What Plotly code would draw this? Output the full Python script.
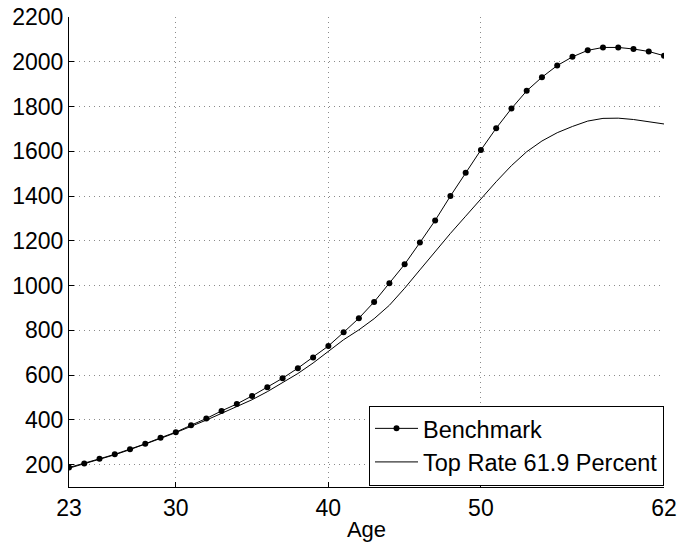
import plotly.graph_objects as go

ages = list(range(23, 63))
benchmark = [187, 205, 226, 246, 269, 293, 320, 345, 376, 406,
             440, 471, 507, 546, 586, 631, 679, 730, 791, 854,
             927, 1010, 1095, 1192, 1291, 1400, 1504, 1606, 1703, 1791,
             1870, 1931, 1983, 2022, 2051, 2064, 2064, 2057, 2046, 2027]
top_rate = [184, 203, 223, 244, 267, 291, 317, 343, 370, 399,
            429, 458, 490, 526, 565, 607, 654, 706, 758, 802,
            852, 912, 988, 1070, 1153, 1233, 1310, 1388, 1464, 1536,
            1598, 1646, 1683, 1711, 1735, 1747, 1748, 1742, 1733, 1722]
x_ticks = [23, 30, 40, 50, 62]
y_ticks = list(range(200, 2201, 200))

fig = go.Figure()
fig.add_trace(go.Scatter(x=ages, y=benchmark, mode="lines+markers", name="Benchmark",
                         line=dict(color="black", width=1),
                         marker=dict(color="black", size=6)))
fig.add_trace(go.Scatter(x=ages, y=top_rate, mode="lines", name="Top Rate 61.9 Percent",
                         line=dict(color="black", width=1)))

font = dict(family="Liberation Sans, Arial, sans-serif", size=23, color="black")
legend_font = dict(family="Liberation Sans, Arial, sans-serif", size=23.5, color="black")
fig.update_layout(
    width=678, height=546,
    margin=dict(l=69, r=14, t=17, b=59, autoexpand=False),
    paper_bgcolor="white", plot_bgcolor="white",
    font=font,
    showlegend=True,
    legend=dict(x=1.0, y=0.003, xanchor="right", yanchor="bottom",
                bgcolor="white", bordercolor="black", borderwidth=1,
                font=legend_font, tracegroupgap=0, itemwidth=43),
)
fig.update_xaxes(range=[23, 62], tickvals=x_ticks, ticktext=[str(v) for v in x_ticks],
                 showline=True, linecolor="black", linewidth=1, ticks="inside", ticklen=5,
                 tickcolor="black", showgrid=True, gridcolor="#8a8a8a", griddash="1px,4px",
                 gridwidth=1, zeroline=False, automargin=False,
                 title=dict(text="Age", standoff=2, font=dict(size=22)),
                 tickfont=font)
fig.update_yaxes(range=[100, 2200], tickvals=y_ticks,
                 showline=True, linecolor="black", linewidth=1, ticks="inside", ticklen=5,
                 tickcolor="black", showgrid=True, gridcolor="#8a8a8a", griddash="1px,4px",
                 gridwidth=1, zeroline=False, automargin=False, tickfont=font)

fig.write_html("out.html", config={"displayModeBar": False},
               post_script="document.body.style.margin='0';document.body.style.overflow='hidden';")
